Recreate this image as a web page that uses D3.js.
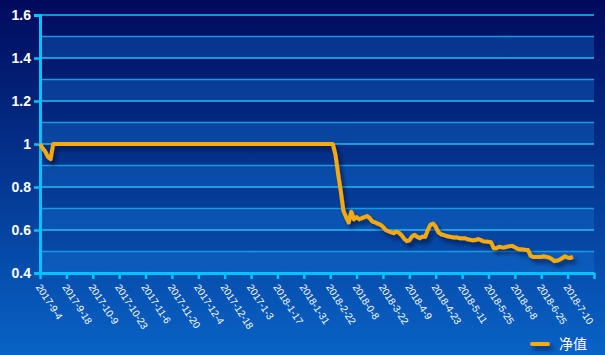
<!DOCTYPE html>
<html>
<head>
<meta charset="utf-8">
<script src="https://cdn.jsdelivr.net/npm/d3@7"></script>
<style>
  html, body { margin: 0; padding: 0; }
  body { width: 605px; height: 355px; overflow: hidden; }
</style>
</head>
<body>
<div id="chart"></div>
<script>
// date labels on the category axis, one every 10 trading days
const dateLabels = ["2017-9-4", "2017-9-18", "2017-10-9", "2017-10-23", "2017-11-6", "2017-11-20",
  "2017-12-4", "2017-12-18", "2017-1-3", "2018-1-17", "2018-1-31", "2018-2-22", "2018-0-8",
  "2018-3-22", "2018-4-9", "2018-4-23", "2018-5-11", "2018-5-25", "2018-6-8", "2018-6-25", "2018-7-10"];
const categoryCount = 211;

// net value per trading day
const netValue = [
  1, 0.98, 0.965, 0.94, 0.93, 1,
  1, 1, 1, 1, 1, 1, 1, 1, 1, 1, 1, 1, 1, 1, 1, 1, 1, 1, 1, 1,
  1, 1, 1, 1, 1, 1, 1, 1, 1, 1, 1, 1, 1, 1, 1, 1, 1, 1, 1, 1,
  1, 1, 1, 1, 1, 1, 1, 1, 1, 1, 1, 1, 1, 1, 1, 1, 1, 1, 1, 1,
  1, 1, 1, 1, 1, 1, 1, 1, 1, 1, 1, 1, 1, 1, 1, 1, 1, 1, 1, 1,
  1, 1, 1, 1, 1, 1, 1, 1, 1, 1, 1, 1, 1, 1, 1, 1, 1, 1, 1, 1,
  1, 1, 1, 1, 1, 1,
  0.95, 0.86, 0.78, 0.69, 0.66, 0.635, 0.685, 0.65, 0.66, 0.65,
  0.655, 0.66, 0.665, 0.655, 0.64, 0.635, 0.63, 0.625, 0.615, 0.6,
  0.595, 0.59, 0.585, 0.592, 0.588, 0.577, 0.56, 0.548, 0.552, 0.57,
  0.578, 0.568, 0.562, 0.57, 0.568, 0.6, 0.625, 0.63, 0.615, 0.59,
  0.58, 0.577, 0.572, 0.57, 0.567, 0.565, 0.566, 0.562, 0.562, 0.562,
  0.557, 0.555, 0.552, 0.553, 0.558, 0.554, 0.548, 0.546, 0.545, 0.543,
  0.515, 0.515, 0.522, 0.52, 0.519, 0.522, 0.525, 0.526, 0.52, 0.513,
  0.51, 0.51, 0.508, 0.507, 0.48, 0.475, 0.475, 0.475, 0.475, 0.478,
  0.474, 0.472, 0.465, 0.455, 0.458, 0.462, 0.47, 0.478, 0.472, 0.47,
  0.476
];

const yTicks = [0.4, 0.6, 0.8, 1, 1.2, 1.4, 1.6];
const yTickLabels = ["0.4", "0.6", "0.8", "1", "1.2", "1.4", "1.6"];
const yMinor = [0.5, 0.7, 0.9, 1.1, 1.3, 1.5];
const seriesName = "净值";

const width = 605, height = 355;
const margin = { left: 40, right: 11, top: 15, bottom: 82 };

const svg = d3.select("#chart").append("svg")
  .attr("width", width)
  .attr("height", height);

const defs = svg.append("defs");
const bg = defs.append("linearGradient")
  .attr("id", "bg").attr("x1", 0).attr("y1", 0).attr("x2", 0).attr("y2", 1);
bg.append("stop").attr("offset", "0%").attr("stop-color", "#000a5c");
bg.append("stop").attr("offset", "100%").attr("stop-color", "#0863c6");

// drop shadow in user space so a flat legend line still gets it
const shadow = defs.append("filter").attr("id", "shadow")
  .attr("filterUnits", "userSpaceOnUse")
  .attr("x", 0).attr("y", 0).attr("width", width).attr("height", height);
shadow.append("feDropShadow")
  .attr("dx", 3).attr("dy", 4).attr("stdDeviation", 2)
  .attr("flood-color", "#000020").attr("flood-opacity", 0.55);

svg.append("rect").attr("width", width).attr("height", height).attr("fill", "url(#bg)");

const x = d3.scaleLinear()
  .domain([0, categoryCount - 1])
  .range([margin.left, width - margin.right]);
const y = d3.scaleLinear()
  .domain([0.4, 1.6])
  .range([height - margin.bottom, margin.top]);

// alternating bands
svg.append("g").selectAll("rect")
  .data(yMinor)
  .join("rect")
  .attr("x", x(0))
  .attr("width", x(categoryCount - 1) - x(0))
  .attr("y", d => y(d))
  .attr("height", d => y(d - 0.1) - y(d))
  .attr("fill", "rgba(20,120,220,0.33)");

// grid lines
svg.append("g").selectAll("line")
  .data(yTicks.concat(yMinor))
  .join("line")
  .attr("x1", x(0)).attr("x2", x(categoryCount - 1))
  .attr("y1", d => y(d)).attr("y2", d => y(d))
  .attr("stroke", d => yTicks.includes(d) ? "#22bdf5" : "#1a9ae0")
  .attr("stroke-width", 1.5);

// y axis
const yAxis = svg.append("g")
  .attr("transform", `translate(${margin.left},0)`)
  .call(d3.axisLeft(y).tickValues(yTicks).tickSize(6).tickPadding(3)
    .tickFormat((d, i) => yTickLabels[i]));
yAxis.select(".domain").attr("stroke", "#00c4ff").attr("stroke-width", 3);
yAxis.selectAll(".tick line").attr("stroke", "#00c4ff").attr("stroke-width", 2.5);
yAxis.selectAll(".tick text")
  .attr("fill", "#ffffff")
  .style("font-family", "'Liberation Sans', Arial, sans-serif")
  .style("font-size", "14px")
  .style("font-weight", "bold");

// x axis
const xTicks = d3.range(0, categoryCount, 10);
const xAxis = svg.append("g")
  .attr("transform", `translate(0,${height - margin.bottom})`)
  .call(d3.axisBottom(x).tickValues(xTicks).tickSize(6).tickSizeOuter(0)
    .tickFormat((d, i) => dateLabels[i] || ""));
xAxis.select(".domain").attr("stroke", "#00c4ff").attr("stroke-width", 3);
xAxis.selectAll(".tick line").attr("stroke", "#00c4ff").attr("stroke-width", 2.5);
xAxis.selectAll(".tick text")
  .attr("fill", "#ffffff")
  .attr("text-anchor", "start")
  .attr("y", 0).attr("dy", "0.35em")
  .attr("transform", "translate(-2,12) rotate(57)")
  .style("font-family", "'Liberation Sans', Arial, sans-serif")
  .style("font-size", "10px");

// series line
const line = d3.line()
  .x((d, i) => x(i))
  .y(d => y(d));

svg.append("path")
  .datum(netValue)
  .attr("d", line)
  .attr("fill", "none")
  .attr("stroke", "#f7a90c")
  .attr("stroke-width", 4)
  .attr("stroke-linejoin", "round")
  .attr("filter", "url(#shadow)");

// legend
const legend = svg.append("g");
legend.append("line")
  .attr("x1", 532).attr("x2", 548).attr("y1", 344).attr("y2", 344)
  .attr("stroke", "#f7a90c").attr("stroke-width", 4).attr("stroke-linecap", "round")
  .attr("filter", "url(#shadow)");
legend.append("text")
  .attr("x", 559).attr("y", 344).attr("dy", "0.36em")
  .attr("fill", "#ffffff")
  .style("font-family", "'Noto Sans CJK SC', sans-serif")
  .style("font-size", "14px")
  .text(seriesName);
</script>
</body>
</html>
